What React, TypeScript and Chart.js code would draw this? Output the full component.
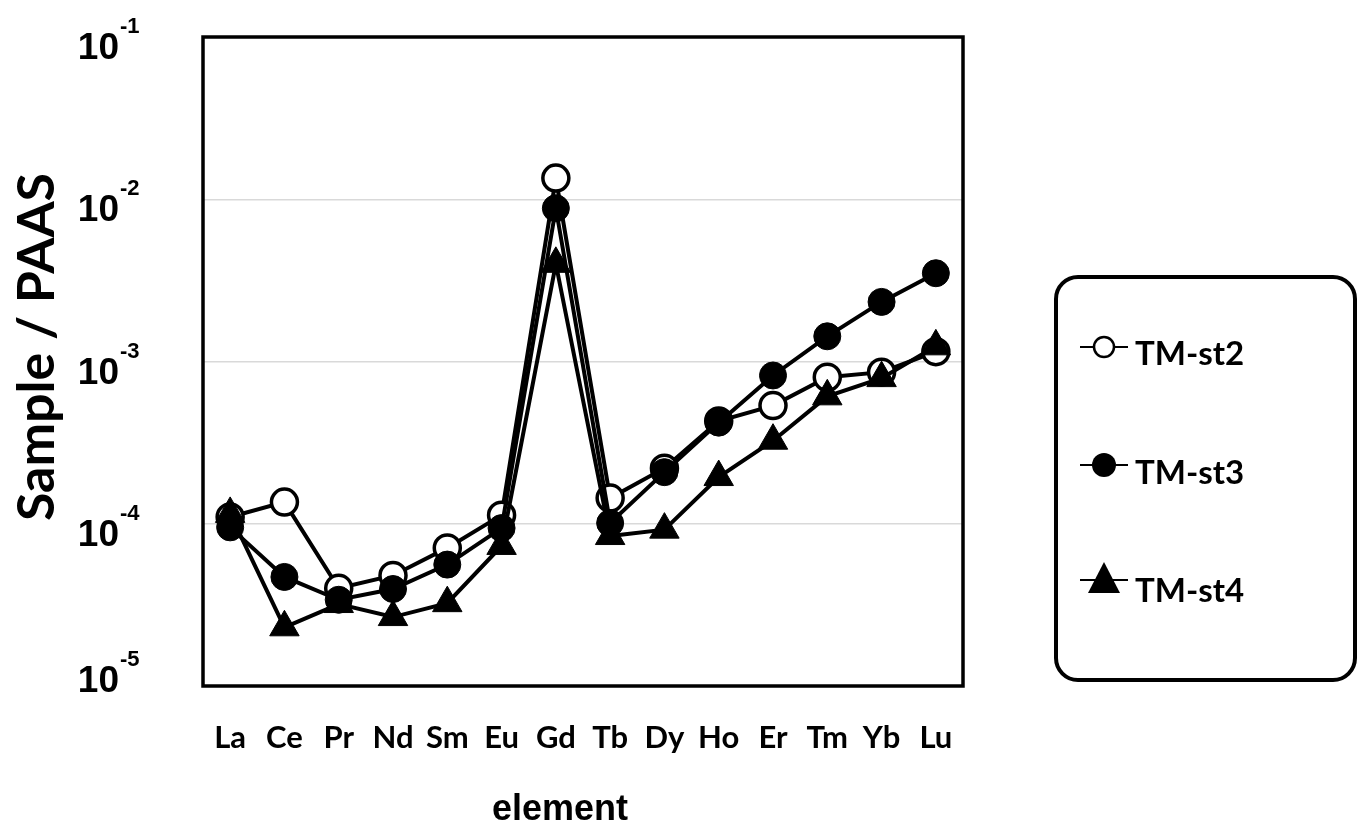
import React, { useEffect, useRef } from "react";
import { Chart, registerables } from "chart.js";

Chart.register(...registerables);

const elements = ["La", "Ce", "Pr", "Nd", "Sm", "Eu", "Gd", "Tb", "Dy", "Ho", "Er", "Tm", "Yb", "Lu"];
const tmSt2 = [1.1e-4, 1.36e-4, 4.0e-5, 4.8e-5, 7.1e-5, 1.13e-4, 1.35e-2, 1.44e-4, 2.2e-4, 4.3e-4, 5.35e-4, 8.0e-4, 8.6e-4, 1.15e-3];
const tmSt3 = [9.5e-5, 4.7e-5, 3.4e-5, 3.96e-5, 5.6e-5, 9.4e-5, 8.8e-3, 1.01e-4, 2.08e-4, 4.2e-4, 8.2e-4, 1.43e-3, 2.33e-3, 3.5e-3];
const tmSt4 = [1.15e-4, 2.3e-5, 3.2e-5, 2.66e-5, 3.24e-5, 7.3e-5, 4.0e-3, 8.4e-5, 9.2e-5, 1.94e-4, 3.25e-4, 6.1e-4, 7.9e-4, 1.24e-3];
const seriesNames = ["TM-st2", "TM-st3", "TM-st4"];
const yTickValues = [1e-5, 1e-4, 1e-3, 1e-2, 1e-1];
const yTickExponents = ["-5", "-4", "-3", "-2", "-1"];
const yTitle = "Sample / PAAS";
const xTitle = "element";

export default function App() {
  const canvasRef = useRef<HTMLCanvasElement | null>(null);

  useEffect(() => {
    const canvas = canvasRef.current;
    if (!canvas) return;

    const overlay = {
      id: "overlay",
      afterDraw(chart: any) {
        const c = chart.ctx as CanvasRenderingContext2D;
        const a = chart.chartArea;
        c.save();
        // plot frame
        c.strokeStyle = "#000";
        c.lineWidth = 3.5;
        c.strokeRect(a.left, a.top, a.right - a.left, a.bottom - a.top);

        // y tick labels with superscript exponents
        const ys = chart.scales.y;
        c.fillStyle = "#000";
        yTickValues.forEach((v, i) => {
          const py = ys.getPixelForValue(v);
          const base = Math.min(py + 22, a.bottom + 6);
          c.font = "bold 37px 'Liberation Sans', Arial, sans-serif";
          c.textAlign = "right";
          c.textBaseline = "alphabetic";
          c.fillText("10", 119, base);
          c.font = "bold 22px 'Liberation Sans', Arial, sans-serif";
          c.textAlign = "left";
          c.fillText(yTickExponents[i], 120, base - 26);
        });

        // y title
        c.save();
        c.translate(54, 347);
        c.rotate(-Math.PI / 2);
        c.font = "bold 52px Lato, sans-serif";
        c.textAlign = "center";
        c.textBaseline = "alphabetic";
        c.fillText(yTitle, 0, 0);
        c.restore();

        // x title
        c.font = "bold 36px 'Liberation Sans', Arial, sans-serif";
        c.textAlign = "center";
        c.textBaseline = "alphabetic";
        c.fillText(xTitle, 560, 820);

        // legend box
        c.lineWidth = 4;
        c.beginPath();
        (c as any).roundRect(1056, 277, 299, 403, 22);
        c.stroke();

        const lineYs = [347, 465, 580];
        const textYs = [365, 484, 602];
        const mx = 1104;
        lineYs.forEach((ly, i) => {
          c.lineWidth = 2;
          c.strokeStyle = "#000";
          c.beginPath();
          c.moveTo(1080, ly);
          c.lineTo(1128, ly);
          c.stroke();
          if (i === 0) {
            c.beginPath();
            c.arc(mx, ly, 10, 0, Math.PI * 2);
            c.fillStyle = "#fff";
            c.fill();
            c.lineWidth = 2.5;
            c.stroke();
          } else if (i === 1) {
            c.beginPath();
            c.arc(mx, ly, 12, 0, Math.PI * 2);
            c.fillStyle = "#000";
            c.fill();
          } else {
            c.beginPath();
            c.moveTo(mx, ly - 18);
            c.lineTo(mx - 16, ly + 13);
            c.lineTo(mx + 16, ly + 13);
            c.closePath();
            c.fillStyle = "#000";
            c.fill();
          }
          c.fillStyle = "#000";
          c.font = "bold 33px Lato, sans-serif";
          c.textAlign = "left";
          c.textBaseline = "alphabetic";
          c.fillText(seriesNames[i], 1135, textYs[i]);
        });
        c.restore();
      },
    };

    const chart = new Chart(canvas, {
      type: "line",
      data: {
        labels: elements,
        datasets: [
          {
            label: seriesNames[0],
            data: tmSt2,
            borderColor: "#000",
            borderWidth: 4,
            pointStyle: "circle",
            pointRadius: 13,
            pointBorderWidth: 3.5,
            pointBackgroundColor: "#fff",
            pointBorderColor: "#000",
            tension: 0,
            order: 2,
          },
          {
            label: seriesNames[1],
            data: tmSt3,
            borderColor: "#000",
            borderWidth: 4,
            pointStyle: "circle",
            pointRadius: 13.5,
            pointBorderWidth: 1,
            pointBackgroundColor: "#000",
            pointBorderColor: "#000",
            tension: 0,
            order: 1,
          },
          {
            label: seriesNames[2],
            data: tmSt4,
            borderColor: "#000",
            borderWidth: 4,
            pointStyle: "triangle",
            pointRadius: 17,
            pointBorderWidth: 1,
            pointBackgroundColor: "#000",
            pointBorderColor: "#000",
            tension: 0,
            order: 0,
          },
        ],
      },
      options: {
        animation: false,
        responsive: true,
        maintainAspectRatio: false,
        clip: false as any,
        layout: { padding: { left: 0, top: 37, right: 402, bottom: 0 } },
        plugins: {
          legend: { display: false },
          tooltip: { enabled: false },
        },
        scales: {
          x: {
            type: "category",
            offset: true,
            grid: { display: false, drawTicks: false },
            border: { display: false },
            ticks: {
              color: "#000",
              padding: 33,
              font: { family: "Lato, sans-serif", size: 31, weight: "bold" },
              maxRotation: 0,
              autoSkip: false,
            },
            afterFit: (s: any) => {
              s.height = 142;
            },
          },
          y: {
            type: "logarithmic",
            min: 1e-5,
            max: 1e-1,
            border: { display: false },
            grid: {
              drawTicks: false,
              lineWidth: 1.5,
              color: (ctx: any) =>
                ctx.tick && (ctx.tick.value === 1e-5 || ctx.tick.value === 1e-1) ? "rgba(0,0,0,0)" : "#d9d9d9",
            },
            ticks: { display: false },
            afterBuildTicks: (s: any) => {
              s.ticks = yTickValues.map((v) => ({ value: v }));
            },
            afterFit: (s: any) => {
              s.width = 203;
            },
          },
        },
      },
      plugins: [overlay],
    });

    return () => chart.destroy();
  }, []);

  return (
    <div style={{ position: "absolute", left: 0, top: 0, width: 1365, height: 828, background: "#fff" }}>
      <canvas ref={canvasRef} />
    </div>
  );
}
